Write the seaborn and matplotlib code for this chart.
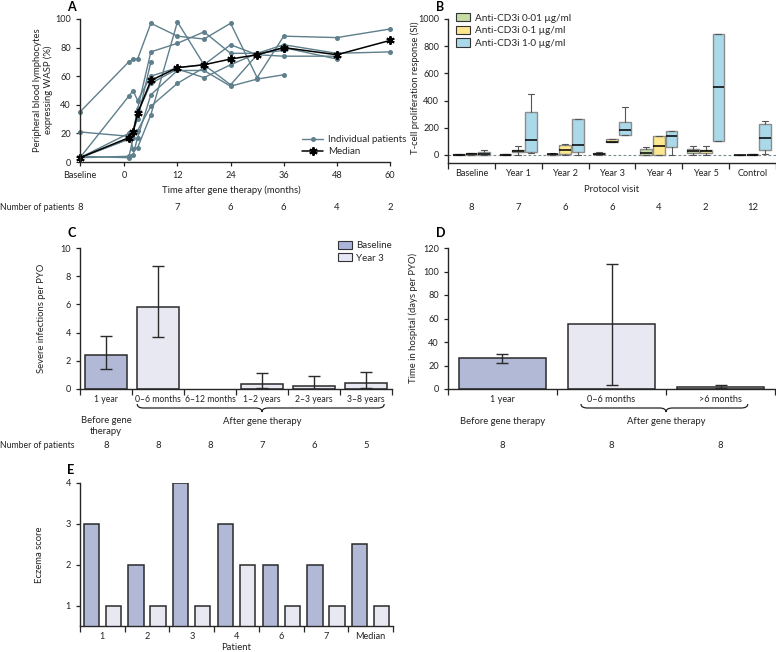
import numpy as np
import pandas as pd
import matplotlib
matplotlib.use("Agg")
import matplotlib.pyplot as plt
import seaborn as sns
from matplotlib.transforms import Affine2D, blended_transform_factory
from matplotlib.path import Path
from matplotlib.patches import PathPatch, Patch
from matplotlib.lines import Line2D

nan = np.nan

# ---- panel A: WASP expression over time
months = [-10, 1, 2, 3, 6, 12, 18, 24, 30, 36, 48, 60]
month_ticks = [-10, 0, 12, 24, 36, 48, 60]
month_tick_labels = ["Baseline", "0", "12", "24", "36", "48", "60"]
wasp_p1 = [35, 70, 72, 72, 97, 88, 86, 97, 59, 88, 87, 93]
wasp_p2 = [21, 18, 21, 37, 77, 83, 91, 76, 76, 82, 76, 77]
wasp_p3 = [3, 46, 50, 43, 60, 66, 68, 54, 75, 80, 72, nan]
wasp_p4 = [3, 20, 9, 10, 33, 98, 68, 82, 75, 74, 74, nan]
wasp_p5 = [3, 16, 21, 34, 55, 65, 59, 68, 76, 78, nan, nan]
wasp_p6 = [3, 4, 5, 17, 47, 64, 64, 53, 58, 61, nan, nan]
wasp_p7 = [4, 3, 17, 22, 39, 55, 66, nan, nan, nan, nan, nan]
wasp_p8 = [3, 16, 22, 30, 70, nan, nan, nan, nan, nan, nan, nan]
wasp_median = [3, 17, 21, 34, 57, 66, 68, 72, 75, 80, 75, 85]
a_n_months = [-10, 12, 24, 36, 48, 60]
a_n_patients = [8, 7, 6, 6, 4, 2]

# ---- panel B: T-cell proliferation (box summaries)
visits = ["Baseline", "Year 1", "Year 2", "Year 3", "Year 4", "Year 5", "Control"]
visit_n = [8, 7, 6, 6, 4, 2, 12]
doses = ["Anti-CD3i 0·01 µg/ml", "Anti-CD3i 0·1 µg/ml", "Anti-CD3i 1·0 µg/ml"]
low_whislo = [0, 0, 0, 3, 0, 0, 0]
low_q1 = [0, 0, 2, 5, 0, 15, 0]
low_med = [2, 3, 5, 10, 15, 30, 0]
low_q3 = [4, 5, 10, 18, 45, 45, 2]
low_whishi = [5, 6, 12, 20, 55, 65, 3]
mid_whislo = [0, 0, 0, 95, 0, 0, 0]
mid_q1 = [0, 20, 10, 95, 0, 15, 0]
mid_med = [8, 30, 35, 96, 68, 30, 3]
mid_q3 = [15, 40, 75, 118, 137, 40, 8]
mid_whishi = [18, 68, 80, 118, 140, 68, 8]
high_whislo = [0, 15, 0, 150, 0, 105, 5]
high_q1 = [3, 20, 20, 150, 60, 105, 35]
high_med = [10, 108, 72, 184, 140, 500, 125]
high_q3 = [22, 319, 265, 240, 176, 890, 230]
high_whishi = [35, 449, 265, 353, 180, 890, 250]

# ---- panel C: severe infections
infection_periods = ["1 year", "0–6 months", "6–12 months", "1–2 years", "2–3 years", "3–8 years"]
infection_group = ["Baseline", "Year 3", "Year 3", "Year 3", "Year 3", "Year 3"]
infection_rate = [2.4, 5.8, nan, 0.35, 0.2, 0.4]
infection_lo = [1.45, 3.7, nan, 0.05, 0.0, 0.05]
infection_hi = [3.75, 8.7, nan, 1.1, 0.95, 1.2]
infection_n = [8, 8, 8, 7, 6, 5]

# ---- panel D: hospitalisation
hospital_periods = ["1 year", "0–6 months", ">6 months"]
hospital_group = ["Baseline", "Year 3", "Year 3"]
hospital_days = [26, 55, 2]
hospital_lo = [22.5, 3.5, 1.0]
hospital_hi = [29.5, 106, 3.2]
hospital_n = [8, 8, 8]

# ---- panel E: eczema
eczema_patients = ["1", "2", "3", "4", "6", "7", "Median"]
eczema_baseline = [3, 2, 4, 3, 2, 2, 2.5]
eczema_year3 = [1, 1, 1, 2, 1, 1, 1]

sns.set_style("ticks")
plt.rcParams["font.family"] = ["Lato", "DejaVu Sans"]
plt.rcParams["font.size"] = 6.5
plt.rcParams["axes.linewidth"] = 1.0
plt.rcParams["xtick.labelsize"] = 6.6
plt.rcParams["ytick.labelsize"] = 6.6
plt.rcParams["xtick.major.width"] = 0.9
plt.rcParams["ytick.major.width"] = 0.9
plt.rcParams["xtick.minor.width"] = 0.9
plt.rcParams["xtick.major.size"] = 3
plt.rcParams["ytick.major.size"] = 3

TXT = "#222222"
PATIENT_COL = "#5e7f8b"
BASE_COL = "#abb5dc"
Y3_COL = "#e5e7f4"
EDGE = "#2a2a2a"
BOX_COLS = ["#c7dba5", "#fde78f", "#aad9ea"]

W, H = 776, 652
fig = plt.figure(figsize=(W / 100, H / 100), dpi=100)
px = Affine2D().scale(1 / W, -1 / H).translate(0, 1) + fig.transFigure


def axes_px(left, top, right, bottom):
    return fig.add_axes([left / W, 1 - bottom / H, (right - left) / W, (bottom - top) / H])


def ptext(x, y, s, **kw):
    kw.setdefault("ha", "center")
    kw.setdefault("va", "center")
    kw.setdefault("color", TXT)
    return fig.text(x, y, s, transform=px, **kw)


def brace(ax, x0, x1, xm, y, h=4, curl=0.12):
    # curly bracket; x in data units, y in figure pixels from the top
    tr = blended_transform_factory(ax.transData, px)
    verts = [(x0, y - h), (x0, y), (x0 + curl, y),
             (xm - curl, y), (xm, y), (xm, y + h),
             (xm, y), (xm + curl, y),
             (x1 - curl, y), (x1, y), (x1, y - h)]
    codes = [Path.MOVETO, Path.CURVE3, Path.CURVE3,
             Path.LINETO, Path.CURVE3, Path.CURVE3,
             Path.CURVE3, Path.CURVE3,
             Path.LINETO, Path.CURVE3, Path.CURVE3]
    fig.patches.append(PathPatch(Path(verts, codes), transform=tr, fill=False,
                                 lw=0.9, edgecolor=TXT, clip_on=False))


def group_ticks(ax, n):
    ax.set_xticks(range(n))
    ax.set_xticks(np.arange(n + 1) - 0.5, minor=True)
    ax.tick_params(axis="x", which="major", length=0, pad=4)
    ax.tick_params(axis="x", which="minor", length=4)


def panel_letter(x, y, s):
    ptext(x, y, s, fontsize=9, fontweight="bold", ha="left", color="black")


# ================= A
axA = axes_px(80, 19, 390, 162)
wasp = pd.DataFrame({"month": months, "P1": wasp_p1, "P2": wasp_p2, "P3": wasp_p3,
                     "P4": wasp_p4, "P5": wasp_p5, "P6": wasp_p6, "P7": wasp_p7, "P8": wasp_p8})
wasp_long = wasp.melt(id_vars="month", var_name="patient", value_name="wasp").dropna()
sns.lineplot(data=wasp_long, x="month", y="wasp", units="patient", estimator=None,
             color=PATIENT_COL, lw=1.0, marker="o", markersize=3.6, markeredgewidth=0,
             legend=False, ax=axA)
sns.lineplot(x=months, y=wasp_median, color="black", lw=1.1, marker=(6, 2, 0),
             markersize=6, markeredgewidth=1.4, markeredgecolor="black", ax=axA)
for ln in axA.lines:
    ln.set_clip_on(False)
axA.set_xlim(-10, 60)
axA.set_ylim(0, 100)
axA.set_xticks(month_ticks, month_tick_labels)
axA.set_yticks([0, 20, 40, 60, 80, 100])
axA.set_xlabel("")
axA.set_ylabel("")
sns.despine(ax=axA)
axA.legend(handles=[Line2D([], [], color=PATIENT_COL, lw=1, marker="o", markersize=3.6, markeredgewidth=0),
                    Line2D([], [], color="black", lw=1.1, marker=(6, 2, 0), markersize=6, markeredgewidth=1.4)],
           labels=["Individual patients", "Median"], loc="upper left", bbox_to_anchor=(302, 135),
           bbox_transform=px, frameon=False, fontsize=7, handlelength=2.2, handletextpad=0.5,
           labelspacing=0.35, borderpad=0, borderaxespad=0)
panel_letter(67, 7, "A")
ptext(43, 90, "Peripheral blood lymphocytes\nexpressing WASP (%)", rotation=90, fontsize=6.8,
      linespacing=1.2)
ptext(231, 190, "Time after gene therapy (months)", fontsize=6.8)
ptext(0, 207, "Number of patients", ha="left", fontsize=6.2)
trA = blended_transform_factory(axA.transData, px)
for m, n in zip(a_n_months, a_n_patients):
    fig.text(m, 207, str(n), transform=trA, ha="center", va="center", fontsize=6.8, color=TXT)

# ================= B
axB = axes_px(448, 19, 776, 163)
box_sets = [
    (low_whislo, low_q1, low_med, low_q3, low_whishi),
    (mid_whislo, mid_q1, mid_med, mid_q3, mid_whishi),
    (high_whislo, high_q1, high_med, high_q3, high_whishi),
]
offsets = [-0.27, 0.0, 0.27]
axB.axhline(0, color="#7a8890", lw=0.8, ls=(0, (2.5, 2)), zorder=0)
for k, (wlo, q1, med, q3, whi) in enumerate(box_sets):
    stats = [dict(whislo=wlo[i], q1=q1[i], med=med[i], q3=q3[i], whishi=whi[i], fliers=[])
             for i in range(len(visits))]
    axB.bxp(stats, positions=np.arange(len(visits)) + offsets[k], widths=0.25,
            patch_artist=True, showfliers=False, manage_ticks=False,
            boxprops=dict(facecolor=BOX_COLS[k], edgecolor="#8c8c8c", lw=1.0),
            medianprops=dict(color="black", lw=1.1),
            whiskerprops=dict(color="#555555", lw=0.8),
            capprops=dict(color="#555555", lw=0.8))
axB.set_xlim(-0.5, len(visits) - 0.5)
axB.set_ylim(-59, 1000)
axB.set_yticks([0, 200, 400, 600, 800, 1000])
group_ticks(axB, len(visits))
axB.set_xticklabels(visits)
sns.despine(ax=axB)
axB.legend(handles=[Patch(facecolor=c, edgecolor="#333333", lw=0.8) for c in BOX_COLS],
           labels=doses, loc="upper left", bbox_to_anchor=(456, 13), bbox_transform=px,
           frameon=False, fontsize=7.2, handlelength=1.4, handleheight=0.9, handletextpad=0.5,
           labelspacing=0.3, borderpad=0, borderaxespad=0)
panel_letter(436, 7, "B")
ptext(415, 88, "T-cell proliferation response (SI)", rotation=90, fontsize=6.8)
ptext(612, 189, "Protocol visit", fontsize=6.8)
trB = blended_transform_factory(axB.transData, px)
for i, n in enumerate(visit_n):
    fig.text(i, 207, str(n), transform=trB, ha="center", va="center", fontsize=6.8, color=TXT)

# ================= C
axC = axes_px(80, 248, 392, 389)
dfC = pd.DataFrame({"period": infection_periods, "rate": infection_rate, "group": infection_group})
sns.barplot(data=dfC, x="period", y="rate", hue="group", dodge=False, width=0.8,
            order=infection_periods,
            palette={"Baseline": BASE_COL, "Year 3": Y3_COL}, edgecolor=EDGE, linewidth=1.1,
            legend=False, ax=axC)
rate = np.array(infection_rate, dtype=float)
lo = np.array(infection_lo, dtype=float)
hi = np.array(infection_hi, dtype=float)
ok = ~np.isnan(lo)
axC.errorbar(np.arange(len(rate))[ok], rate[ok], yerr=[rate[ok] - lo[ok], hi[ok] - rate[ok]],
             fmt="none", ecolor=EDGE, elinewidth=1.0, capsize=4.5, capthick=1.0, zorder=5)
axC.set_xlim(-0.5, len(rate) - 0.5)
axC.set_ylim(0, 10)
axC.set_yticks([0, 2, 4, 6, 8, 10])
group_ticks(axC, len(rate))
axC.set_xticklabels(infection_periods)
axC.tick_params(axis="x", which="major", labelsize=6.2)
axC.set_xlabel("")
axC.set_ylabel("")
sns.despine(ax=axC)
axC.legend(handles=[Patch(facecolor=BASE_COL, edgecolor="#333333", lw=0.8),
                    Patch(facecolor=Y3_COL, edgecolor="#333333", lw=0.8)],
           labels=["Baseline", "Year 3"], loc="upper left", bbox_to_anchor=(338, 241),
           bbox_transform=px, frameon=False, fontsize=7, handlelength=1.4, handleheight=0.9,
           handletextpad=0.5, labelspacing=0.3, borderpad=0, borderaxespad=0)
panel_letter(67, 233, "C")
ptext(42, 318, "Severe infections per PYO", rotation=90, fontsize=6.8)
brace(axC, 0.6, 5.35, 3.0, 408)
trC = blended_transform_factory(axC.transData, px)
fig.text(0, 426, "Before gene\ntherapy", transform=trC, ha="center", va="center", fontsize=6.8,
         color=TXT, linespacing=1.3)
fig.text(3.0, 422, "After gene therapy", transform=trC, ha="center", va="center", fontsize=6.8, color=TXT)
ptext(0, 445, "Number of patients", ha="left", fontsize=6.2)
for i, n in enumerate(infection_n):
    fig.text(i, 445, str(n), transform=trC, ha="center", va="center", fontsize=6.8, color=TXT)

# ================= D
axD = axes_px(448, 248, 775, 389)
dfD = pd.DataFrame({"period": hospital_periods, "days": hospital_days, "group": hospital_group})
sns.barplot(data=dfD, x="period", y="days", hue="group", dodge=False, width=0.8,
            palette={"Baseline": BASE_COL, "Year 3": Y3_COL}, edgecolor=EDGE, linewidth=1.1,
            legend=False, ax=axD)
days = np.array(hospital_days, dtype=float)
axD.errorbar(np.arange(len(days)), days,
             yerr=[days - np.array(hospital_lo), np.array(hospital_hi) - days],
             fmt="none", ecolor=EDGE, elinewidth=1.0, capsize=4.5, capthick=1.0, zorder=5)
axD.set_xlim(-0.5, len(days) - 0.5)
axD.set_ylim(0, 120)
axD.set_yticks([0, 20, 40, 60, 80, 100, 120])
group_ticks(axD, len(days))
axD.set_xticklabels(hospital_periods)
axD.set_xlabel("")
axD.set_ylabel("")
sns.despine(ax=axD)
panel_letter(436, 233, "D")
ptext(413, 318, "Time in hospital (days per PYO)", rotation=90, fontsize=6.8)
brace(axD, 0.72, 2.25, 1.5, 408, curl=0.06)
trD = blended_transform_factory(axD.transData, px)
fig.text(0, 422, "Before gene therapy", transform=trD, ha="center", va="center", fontsize=6.8, color=TXT)
fig.text(1.5, 422, "After gene therapy", transform=trD, ha="center", va="center", fontsize=6.8, color=TXT)
for i, n in enumerate(hospital_n):
    fig.text(i, 445, str(n), transform=trD, ha="center", va="center", fontsize=6.8, color=TXT)

# ================= E
axE = axes_px(80, 483, 393, 626)
dfE = pd.DataFrame({"patient": eczema_patients * 2,
                    "score": eczema_baseline + eczema_year3,
                    "time": ["Baseline"] * len(eczema_patients) + ["Year 3"] * len(eczema_patients)})
sns.barplot(data=dfE, x="patient", y="score", hue="time", width=0.98, gap=0.3,
            palette={"Baseline": BASE_COL, "Year 3": Y3_COL}, edgecolor=EDGE, linewidth=1.1,
            legend=False, ax=axE)
axE.set_xlim(-0.5, len(eczema_patients) - 0.5)
axE.set_ylim(0.5, 4)
axE.set_yticks([1, 2, 3, 4])
group_ticks(axE, len(eczema_patients))
axE.set_xticklabels(eczema_patients)
axE.set_xlabel("")
axE.set_ylabel("")
sns.despine(ax=axE)
panel_letter(67, 470, "E")
ptext(40, 555, "Eczema score", rotation=90, fontsize=6.8)
ptext(236, 647, "Patient", fontsize=6.8)

for ax in (axA, axB, axC, axD, axE):
    ax.tick_params(colors=TXT, labelcolor=TXT)

fig.savefig("out.png", dpi=100)
